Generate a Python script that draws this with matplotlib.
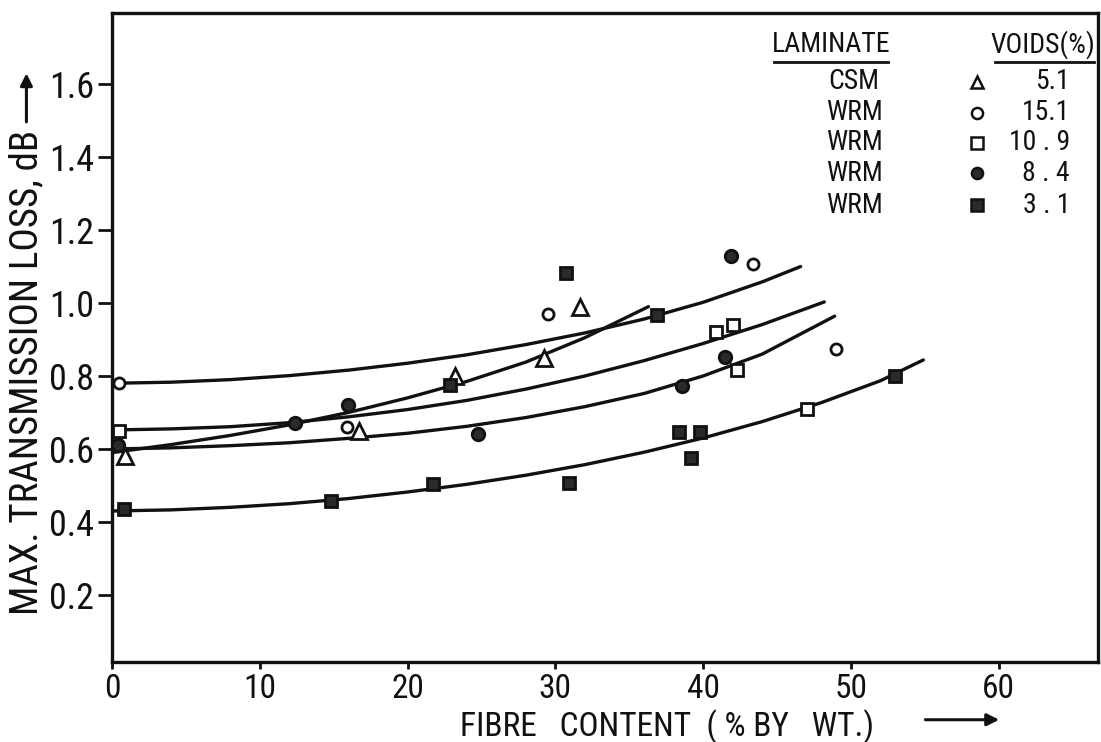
import numpy as np
import matplotlib
matplotlib.use('Agg')
import matplotlib.pyplot as plt
from matplotlib import font_manager
from matplotlib.patches import FancyArrowPatch

# narrow lettering if there is one, else DejaVu Sans
have = set(f.name for f in font_manager.fontManager.ttflist)
narrow = [n for n in ['Roboto Condensed', 'Liberation Sans Narrow', 'DejaVu Sans Condensed',
                      'Archivo Narrow', 'PT Sans Narrow', 'Open Sans Condensed'] if n in have]
plt.rcParams['font.family'] = narrow[:1] + ['DejaVu Sans']

# data points
csm_x = [0.9, 16.7, 23.2, 29.2, 31.7]
csm_y = [0.58, 0.65, 0.80, 0.85, 0.99]

v151_x = [0.5, 15.9, 29.5, 43.4, 49.0]
v151_y = [0.78, 0.66, 0.97, 1.107, 0.874]

v109_x = [0.5, 40.9, 42.0, 42.3, 47.0]
v109_y = [0.65, 0.92, 0.94, 0.816, 0.71]

v84_x = [0.4, 12.4, 16.0, 24.8, 38.6, 41.5, 41.9]
v84_y = [0.61, 0.67, 0.72, 0.64, 0.773, 0.852, 1.13]

v31_x = [0.8, 14.8, 21.7, 22.9, 30.7, 30.9, 36.9, 38.4, 39.8, 39.2, 53.0]
v31_y = [0.435, 0.457, 0.504, 0.775, 1.082, 0.507, 0.967, 0.647, 0.647, 0.575, 0.80]

# fitted curves
csm_cx = [0, 4, 8, 12, 16, 20, 24, 28, 32, 36.3]
csm_cy = [0.590, 0.612, 0.637, 0.666, 0.700, 0.740, 0.785, 0.838, 0.905, 0.99]

c151_x = [0, 4, 8, 12, 16, 20, 24, 28, 32, 36, 40, 44, 46.6]
c151_y = [0.780, 0.783, 0.790, 0.801, 0.816, 0.835, 0.858, 0.886, 0.918, 0.956, 1.002, 1.058, 1.10]

c109_x = [0, 4, 8, 12, 16, 20, 24, 28, 32, 36, 40, 44, 48.2]
c109_y = [0.652, 0.655, 0.661, 0.672, 0.688, 0.708, 0.733, 0.764, 0.800, 0.842, 0.889, 0.941, 1.003]

c84_x = [0, 4, 8, 12, 16, 20, 24, 28, 32, 36, 40, 44, 48.9]
c84_y = [0.600, 0.603, 0.609, 0.617, 0.629, 0.643, 0.662, 0.686, 0.716, 0.752, 0.800, 0.860, 0.964]

c31_x = [0, 4, 8, 12, 16, 20, 24, 28, 32, 36, 40, 44, 48, 52, 54.9]
c31_y = [0.430, 0.433, 0.440, 0.450, 0.464, 0.482, 0.503, 0.528, 0.557, 0.591, 0.630, 0.675, 0.727, 0.787, 0.844]

laminates = ['CSM', 'WRM', 'WRM', 'WRM', 'WRM']
voids = ['5.1', '15.1', '10 . 9', '8 . 4', '3 . 1']

xticks = [0, 10, 20, 30, 40, 50, 60]
yticks = [0.2, 0.4, 0.6, 0.8, 1.0, 1.2, 1.4, 1.6]

ink = '#111111'
fill = '#2a2a2a'

fig = plt.figure(figsize=(11.01, 7.42), dpi=100)
ax = fig.add_axes([0.1017, 0.1078, 0.8953, 0.8747])

for cx, cy in [(csm_cx, csm_cy), (c151_x, c151_y), (c109_x, c109_y),
               (c84_x, c84_y), (c31_x, c31_y)]:
    ax.plot(cx, cy, color=ink, lw=2.4, solid_capstyle='round', solid_joinstyle='round', zorder=2)

styles = [
    (csm_x, csm_y, '^', 'white', 11),
    (v151_x, v151_y, 'o', 'white', 8),
    (v109_x, v109_y, 's', 'white', 9),
    (v84_x, v84_y, 'o', fill, 9),
    (v31_x, v31_y, 's', fill, 9),
]
for px, py, m, fc, ms in styles:
    ax.plot(px, py, ls='none', marker=m, ms=ms, mfc=fc, mec=ink, mew=2, zorder=3)

ax.set_xlim(0, 66.7)
ax.set_ylim(0.016, 1.795)
ax.set_xticks(xticks)
ax.set_yticks(yticks)
ax.set_yticklabels(['%.1f' % v for v in yticks])
ax.tick_params(axis='y', direction='out', length=10, width=2, labelsize=26, pad=3, colors=ink)
ax.tick_params(axis='x', direction='out', length=5, width=2, labelsize=24, pad=3, colors=ink)
for s in ax.spines.values():
    s.set_linewidth(2.4)
    s.set_color(ink)

# legend table
ax.text(0.730, 0.951, 'LAMINATE', transform=ax.transAxes, ha='center', va='center', fontsize=20, color=ink)
ax.text(0.944, 0.951, 'VOIDS(%)', transform=ax.transAxes, ha='center', va='center', fontsize=20, color=ink)
ax.plot([0.672, 0.787], [0.924, 0.924], transform=ax.transAxes, color=ink, lw=2, clip_on=False)
ax.plot([0.896, 0.996], [0.924, 0.924], transform=ax.transAxes, color=ink, lw=2, clip_on=False)
row_y = [0.894, 0.846, 0.800, 0.753, 0.704]
leg_m = [('^', 'white', 9), ('o', 'white', 8), ('s', 'white', 8), ('o', fill, 8), ('s', fill, 8)]
for i in range(5):
    ax.text(0.753, row_y[i], laminates[i], transform=ax.transAxes, ha='center', va='center', fontsize=20, color=ink)
    m, fc, ms = leg_m[i]
    ax.plot([0.878], [row_y[i]], transform=ax.transAxes, ls='none', marker=m, ms=ms, mfc=fc, mec=ink, mew=1.8, clip_on=False)
    ax.text(0.972, row_y[i], voids[i], transform=ax.transAxes, ha='right', va='center', fontsize=20, color=ink)

# axis titles with arrows
fig.text(0.024, 0.498, 'MAX. TRANSMISSION LOSS, dB', rotation=90, ha='center', va='center', fontsize=28, color=ink)
fig.add_artist(FancyArrowPatch((0.024, 0.832), (0.024, 0.905), transform=fig.transFigure,
               arrowstyle='-|>', mutation_scale=18, lw=2.2, color=ink))
fig.text(0.606, 0.021, 'FIBRE   CONTENT  ( % BY   WT.)', ha='center', va='center', fontsize=24, color=ink)
fig.add_artist(FancyArrowPatch((0.838, 0.03), (0.91, 0.03), transform=fig.transFigure,
               arrowstyle='-|>', mutation_scale=18, lw=2.2, color=ink))

plt.savefig('out.png', dpi=100)
